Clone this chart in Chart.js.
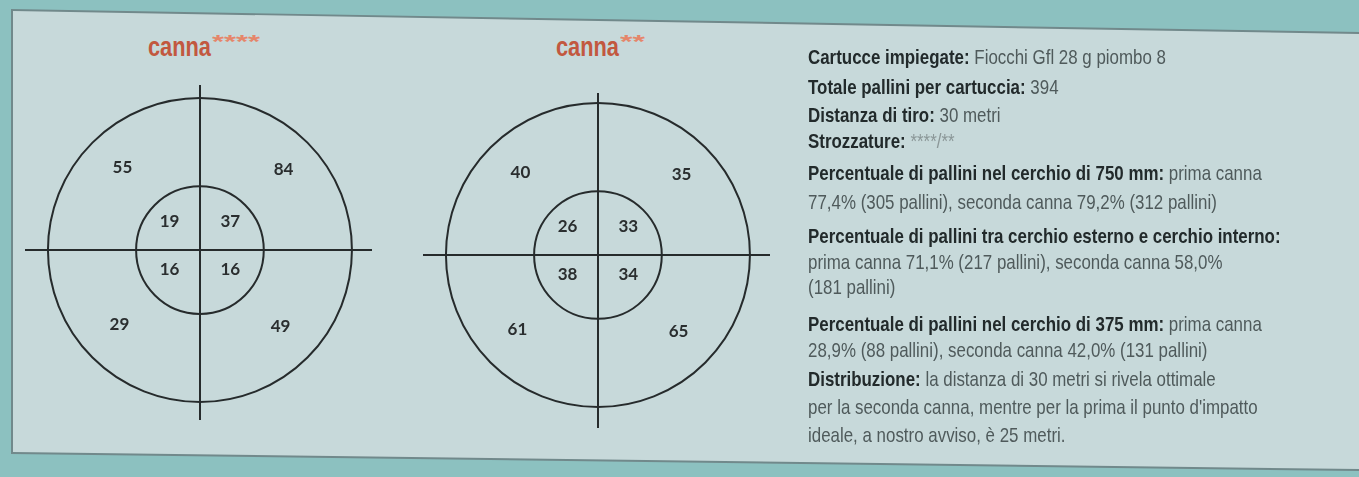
<!DOCTYPE html>
<html>
<head>
<meta charset="utf-8">
<script src="https://cdn.jsdelivr.net/npm/chart.js@4"></script>
<style>
  html, body { margin: 0; padding: 0; }
  body { width: 1359px; height: 477px; position: relative; overflow: hidden; background: #8cc1c0; }
  .edge { position: absolute; inset: 0; background: #71898b;
    clip-path: polygon(11px 9px, 1359px 32px, 1359px 471px, 11px 454px); }
  .panel { position: absolute; inset: 0; background: #c7d9da;
    clip-path: polygon(13px 11px, 1359px 34px, 1359px 469px, 13px 452px); }
  .word, .stars-t { position: absolute; white-space: nowrap; transform-origin: 0 0; font-family: "Liberation Sans", Arial, sans-serif; font-weight: bold; }
  .word { top: 32px; font-size: 27px; color: #c2583f; }
  .stars-t { top: 32px; font-size: 18px; color: #e5866a; }
  canvas { position: absolute; }
  .info { position: absolute; left: 808px; top: 0; font: 21px "Liberation Sans", Arial, sans-serif;
    color: #4f5a5b; white-space: nowrap; transform-origin: 0 0; }
  .info p { position: absolute; left: 0; margin: 0; }
  .info b { color: #222a2b; }
  .info .stars { color: #8b9798; }
</style>
</head>
<body>
<div class="edge"></div>
<div class="panel"></div>

<div class="word" id="w1" style="left:148px"></div>
<div class="stars-t" id="s1" style="left:212px"></div>
<div class="word" id="w2" style="left:556px"></div>
<div class="stars-t" id="s2" style="left:620px"></div>
<canvas id="target1" width="347" height="335" style="left:25px;top:85px"></canvas>
<canvas id="target2" width="347" height="335" style="left:423px;top:93px"></canvas>

<div class="info" id="info">
  <p id="first" style="top:44px;line-height:26px"><b>Cartucce impiegate:</b> Fiocchi Gfl 28 g piombo 8</p>
  <p style="top:74px;line-height:26px"><b>Totale pallini per cartuccia:</b> 394</p>
  <p style="top:102px;line-height:26px"><b>Distanza di tiro:</b> 30 metri</p>
  <p style="top:128px;line-height:26px"><b>Strozzature:</b> <span class="stars">****/**</span></p>
  <p style="top:158px;line-height:29px"><b>Percentuale di pallini nel cerchio di 750 mm:</b> prima canna<br>77,4% (305 pallini), seconda canna 79,2% (312 pallini)</p>
  <p style="top:223px;line-height:25.5px"><b>Percentuale di pallini tra cerchio esterno e cerchio interno:</b><br>prima canna 71,1% (217 pallini), seconda canna 58,0%<br>(181 pallini)</p>
  <p style="top:311px;line-height:25.5px"><b>Percentuale di pallini nel cerchio di 375 mm:</b> prima canna<br>28,9% (88 pallini), seconda canna 42,0% (131 pallini)</p>
  <p style="top:365px;line-height:28px"><b>Distribuzione:</b> la distanza di 30 metri si rivela ottimale<br>per la seconda canna, mentre per la prima il punto d'impatto<br>ideale, a nostro avviso, è 25 metri.</p>
</div>

<script>
// canne e conteggio pallini per quadrante (alto-sx, alto-dx, basso-sx, basso-dx)
const barrels = ["canna", "canna"];
const barrelChokes = ["****", "**"];
const quadrants = ["alto sinistra", "alto destra", "basso sinistra", "basso destra"];
const canna4Outer = [55, 84, 29, 49];
const canna4Inner = [19, 37, 16, 16];
const canna2Outer = [40, 35, 61, 65];
const canna2Inner = [26, 33, 38, 34];

// where the numbers sit inside each quadrant, in units of the outer radius
const outerSpot = [[-0.51, 0.54], [0.55, 0.53], [-0.53, -0.49], [0.53, -0.50]];
const innerSpot = [[-0.20, 0.19], [0.20, 0.19], [-0.20, -0.13], [0.20, -0.13]];
const rings = [1, 0.42];

// the print uses a condensed face, squeeze a regular one to the same width
function squeeze(el, measureEl, width) {
  const w = measureEl.getBoundingClientRect().width;
  el.style.transform = "scaleX(" + (width / w) + ")";
}

const w1 = document.getElementById("w1"), s1 = document.getElementById("s1");
const w2 = document.getElementById("w2"), s2 = document.getElementById("s2");
w1.textContent = barrels[0]; s1.textContent = barrelChokes[0];
w2.textContent = barrels[1]; s2.textContent = barrelChokes[1];
squeeze(w1, w1, 63);
squeeze(w2, w2, 63);
squeeze(s1, s1, 48);
squeeze(s2, s2, 25);
squeeze(document.getElementById("info"), document.getElementById("first"), 358);

const ringsPlugin = {
  id: "rings",
  beforeDatasetsDraw(chart) {
    const { ctx, scales: { x, y } } = chart;
    const cx = x.getPixelForValue(0);
    const cy = y.getPixelForValue(0);
    ctx.save();
    ctx.strokeStyle = "#262b2c";
    ctx.lineWidth = 2;
    rings.forEach((r) => {
      ctx.beginPath();
      ctx.arc(cx, cy, x.getPixelForValue(r) - cx, 0, Math.PI * 2);
      ctx.stroke();
    });
    ctx.restore();
  },
};

const countsPlugin = {
  id: "counts",
  afterDatasetsDraw(chart) {
    const { ctx } = chart;
    ctx.save();
    ctx.fillStyle = "#2a2e2f";
    ctx.font = "bold 17px Lato, 'DejaVu Sans', sans-serif";
    ctx.textAlign = "center";
    ctx.textBaseline = "middle";
    chart.data.datasets.forEach((ds, i) => {
      chart.getDatasetMeta(i).data.forEach((pt, j) => {
        ctx.fillText(String(ds.data[j].n), pt.x, pt.y);
      });
    });
    ctx.restore();
  },
};

function makeTarget(id, outer, inner, yMin, yMax) {
  const toPoints = (counts, spots) =>
    counts.map((n, i) => ({ x: spots[i][0], y: spots[i][1], n, q: quadrants[i] }));

  new Chart(document.getElementById(id), {
    type: "scatter",
    data: {
      datasets: [
        { label: "cerchio esterno", data: toPoints(outer, outerSpot), pointRadius: 0 },
        { label: "cerchio interno", data: toPoints(inner, innerSpot), pointRadius: 0 },
      ],
    },
    options: {
      responsive: false,
      animation: false,
      layout: { padding: 0 },
      plugins: { legend: { display: false }, tooltip: { enabled: false } },
      scales: {
        x: {
          min: -1.151, max: 1.132,
          afterBuildTicks: (axis) => { axis.ticks = [{ value: 0 }]; },
          ticks: { display: false },
          grid: { color: "#262b2c", lineWidth: 2, drawTicks: false },
          border: { display: false },
        },
        y: {
          min: yMin, max: yMax,
          afterBuildTicks: (axis) => { axis.ticks = [{ value: 0 }]; },
          ticks: { display: false },
          grid: { color: "#262b2c", lineWidth: 2, drawTicks: false },
          border: { display: false },
        },
      },
    },
    plugins: [ringsPlugin, countsPlugin],
  });
}

makeTarget("target1", canna4Outer, canna4Inner, -1.118, 1.086);
makeTarget("target2", canna2Outer, canna2Inner, -1.138, 1.066);
</script>
</body>
</html>
